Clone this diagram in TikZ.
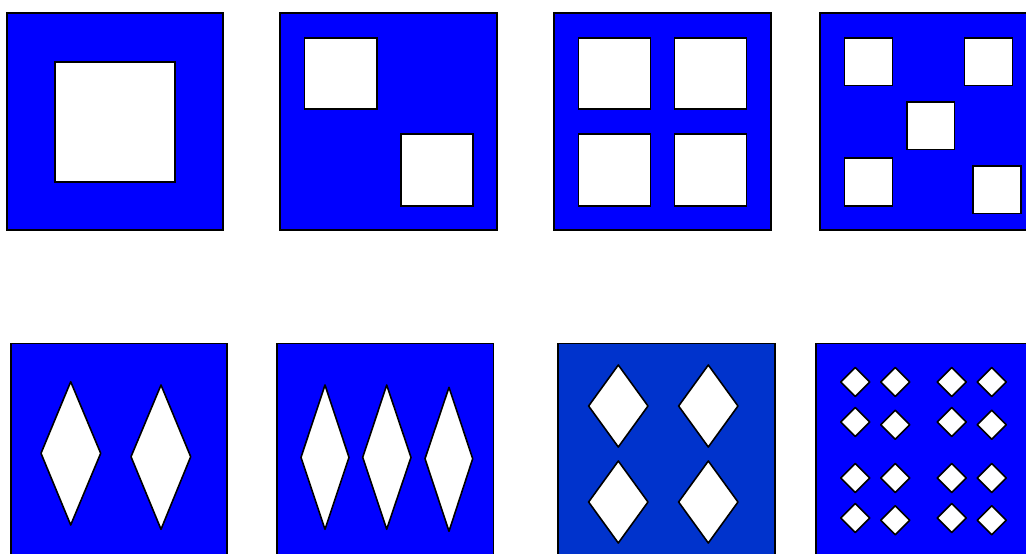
\documentclass[tikz,border=0pt]{standalone}
\begin{document}
\begin{tikzpicture}[x=1pt,y=-1pt,
  panel/.style={draw=black,line width=1.6pt,fill=pblue},
  darkpanel/.style={draw=black,line width=1.6pt,fill=dblue},
  hole/.style={draw=black,line width=1.6pt,fill=white,line join=miter},
  dia/.style={draw=black,line width=1.6pt,fill=white,line join=round}]
\definecolor{pblue}{RGB}{0,0,255}
\definecolor{dblue}{RGB}{0,51,204}
\useasboundingbox (0,0) rectangle (1026,554);
\begin{scope}
\clip (0,0) rectangle (1026,554);
% ---- top row ----
\draw[panel] (7,13) rectangle (223,230);
\draw[hole] (55,62) rectangle (175,182);

\draw[panel] (280,13) rectangle (497,230);
\draw[hole] (304.5,37.7) rectangle (376.7,109);
\draw[hole] (400.7,134) rectangle (472.7,205.7);

\draw[panel] (554,13) rectangle (771,230);
\draw[hole] (578.3,37.7) rectangle (650.3,109);
\draw[hole] (674.3,37.7) rectangle (746.3,109);
\draw[hole] (578.3,134) rectangle (650.3,205.7);
\draw[hole] (674.3,134) rectangle (746.3,205.7);

\draw[panel] (820,13) rectangle (1037,230);
\draw[hole] (844.3,37.7) rectangle (892.3,85.3);
\draw[hole] (964.3,37.7) rectangle (1012.3,85.3);
\draw[hole] (906.7,101.7) rectangle (954.3,149.3);
\draw[hole] (844.3,157.7) rectangle (892.3,205.7);
\draw[hole] (972.7,165.7) rectangle (1020.7,213.3);

% ---- bottom row ----
\draw[panel] (11,343.3) rectangle (227,560);
\draw[dia] (70.7,381.7) -- (100.7,453.3) -- (70.7,525) -- (41,453.3) -- cycle;
\draw[dia] (161,385) -- (190.7,456.7) -- (161,529.3) -- (131,456.7) -- cycle;

\draw[panel] (276.7,343.3) rectangle (493.3,560);
\draw[dia] (325,385) -- (349,457.3) -- (325,529.3) -- (301,457.3) -- cycle;
\draw[dia] (386.7,385) -- (411,457.3) -- (386.7,529.3) -- (362.7,457.3) -- cycle;
\draw[dia] (449,387.3) -- (472.7,458.7) -- (449,531.3) -- (425,458.7) -- cycle;

\draw[darkpanel] (557.7,343.3) rectangle (775,560);
\foreach \cx in {618.3,708.3}{
  \foreach \cy in {406,502}{
    \draw[dia] (\cx,\cy-41) -- (\cx+29.7,\cy) -- (\cx,\cy+41) -- (\cx-29.7,\cy) -- cycle;
  }
}

\draw[panel] (816,343.3) rectangle (1033,560);
\foreach \cx/\cy in {855.3/382,895.3/382,951.7/382,991.7/382,
                     855.3/422,895.3/424.7,951.7/422,991.7/424.7,
                     855.3/478,895.3/478,951.7/478,991.7/478,
                     855.3/518,895.3/520.3,951.7/518,991.7/520.3}{
  \draw[dia] (\cx,\cy-14.5) -- (\cx+14.5,\cy) -- (\cx,\cy+14.5) -- (\cx-14.5,\cy) -- cycle;
}
\end{scope}
\end{tikzpicture}
\end{document}
